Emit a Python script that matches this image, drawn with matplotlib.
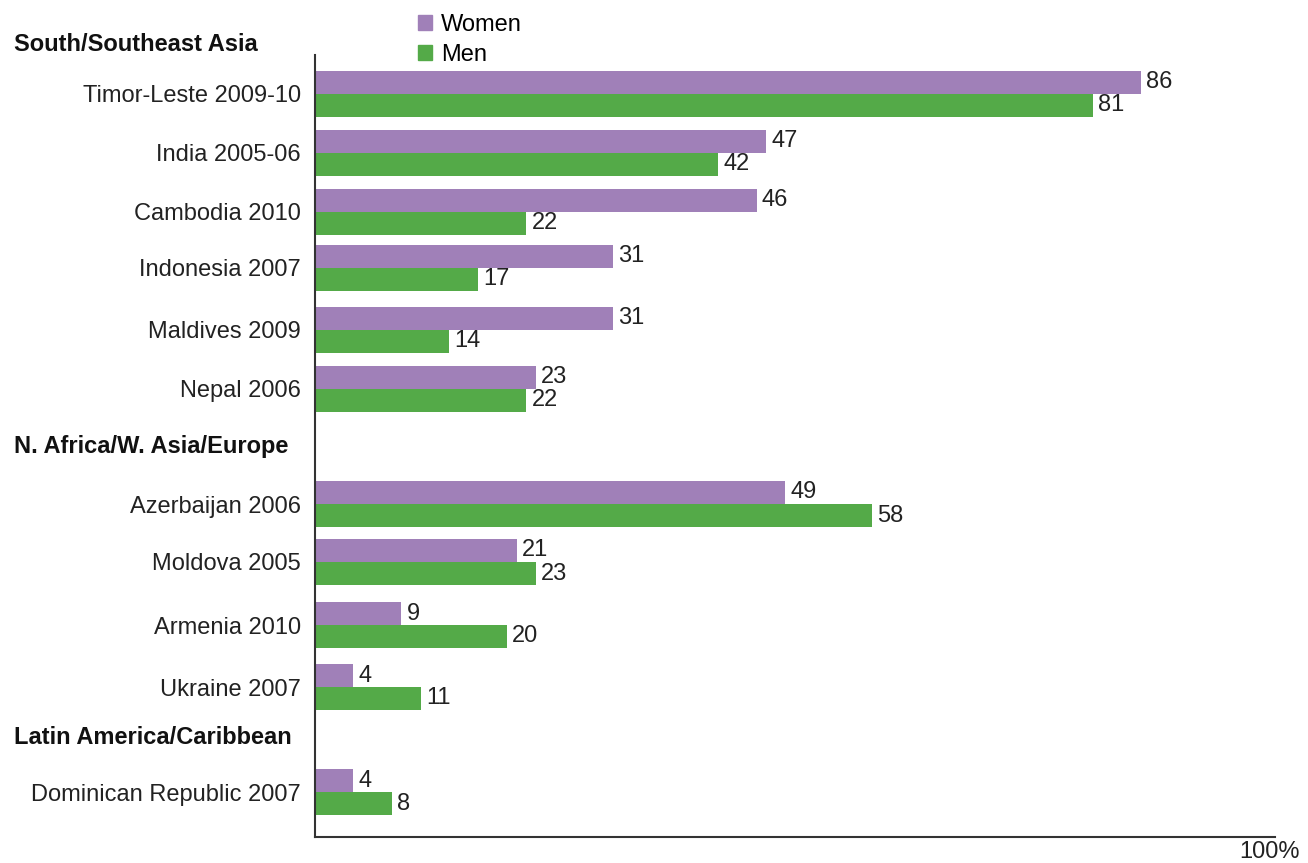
import numpy as np
import matplotlib.pyplot as plt
import matplotlib.transforms as mtransforms
from matplotlib.patches import Patch

plt.rcParams['font.family'] = ['Liberation Sans Narrow', 'Liberation Sans', 'DejaVu Sans']

labels = ['Timor-Leste 2009-10', 'India 2005-06', 'Cambodia 2010', 'Indonesia 2007',
          'Maldives 2009', 'Nepal 2006', 'Azerbaijan 2006', 'Moldova 2005',
          'Armenia 2010', 'Ukraine 2007', 'Dominican Republic 2007']
women = [86, 47, 46, 31, 31, 23, 49, 21, 9, 4, 4]
men = [81, 42, 22, 17, 14, 22, 58, 23, 20, 11, 8]
groups = ['South/Southeast Asia', 'N. Africa/W. Asia/Europe', 'Latin America/Caribbean']

# vertical layout (row centres, measured top-down like the original page)
row_pos = [94, 153, 212, 268, 330, 389, 504, 562, 625, 687, 792]
header_pos = [45, 447, 738]
bar_h = 23

purple = '#A080B8'
green = '#54AA48'

fig = plt.figure(figsize=(13.08, 8.63), dpi=100)
ax = fig.add_axes([315 / 1308, 1 - 837 / 863, 960 / 1308, 782 / 863])

y = np.array(row_pos, dtype=float)
ax.barh(y - bar_h / 2, women, height=bar_h, color=purple, label='Women')
ax.barh(y + bar_h / 2, men, height=bar_h, color=green, label='Men')

for yi, w, m in zip(y, women, men):
    ax.text(w + 0.55, yi - bar_h / 2, str(w), va='center', ha='left', fontsize=17, color='#222222')
    ax.text(m + 0.55, yi + bar_h / 2, str(m), va='center', ha='left', fontsize=17, color='#222222')

ax.set_xlim(0, 100)
ax.set_ylim(837, 55)
ax.set_yticks(y)
ax.set_yticklabels(labels, fontsize=17, color='#222222')
ax.tick_params(axis='y', length=0, pad=10)
ax.set_xticks([])
for s in ['top', 'right']:
    ax.spines[s].set_visible(False)
for s in ['left', 'bottom']:
    ax.spines[s].set_color('#333333')
    ax.spines[s].set_linewidth(1.5)

trans = mtransforms.blended_transform_factory(fig.transFigure, ax.transData)
for g, hp in zip(groups, header_pos):
    ax.text(14 / 1308, hp, g, transform=trans, fontsize=17, fontweight='bold',
            ha='left', va='center', color='#111111', clip_on=False)

fig.text(1.0 - 8 / 1308, 1 - 852 / 863, '100%', ha='right', va='center', fontsize=17, color='#222222')

handles = [Patch(color=purple, label='Women'), Patch(color=green, label='Men')]
fig.legend(handles=handles, loc='upper left', bbox_to_anchor=(397 / 1308, 1 + 7 / 863),
           frameon=False, fontsize=17, handlelength=0.6, handleheight=0.6,
           handletextpad=0.35, labelspacing=0.33)

fig.savefig('out.png', dpi=100)
